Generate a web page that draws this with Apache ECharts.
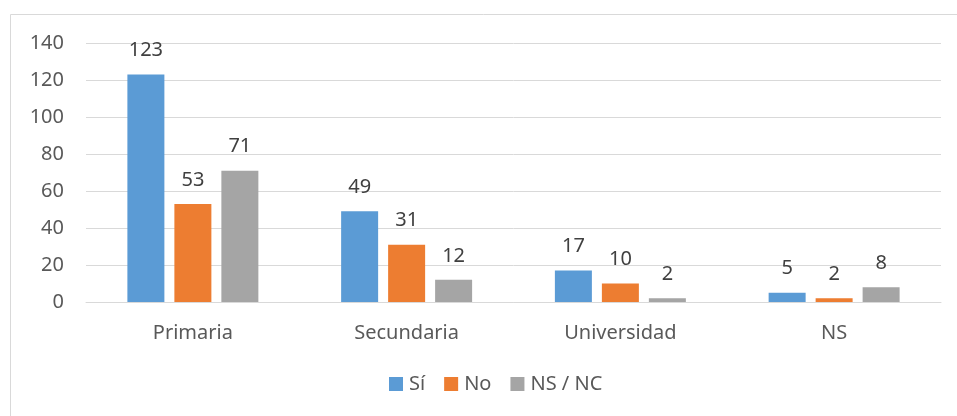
<!DOCTYPE html>
<html>
<head>
<meta charset="utf-8">
<script src="https://cdn.jsdelivr.net/npm/echarts@6/dist/echarts.min.js"></script>
<style>
  html, body { margin: 0; padding: 0; background: #fff; }
  #chart { width: 957px; height: 416px; }
</style>
</head>
<body>
<div id="chart"></div>
<script>
// Education level categories and answer counts
const categories = ['Primaria', 'Secundaria', 'Universidad', 'NS'];
const seriesNames = ['Sí', 'No', 'NS / NC'];
const siValues = [123, 49, 17, 5];
const noValues = [53, 31, 10, 2];
const nsncValues = [71, 12, 2, 8];
const yTicks = [0, 20, 40, 60, 80, 100, 120, 140];

const colors = ['#5b9bd5', '#ed7d31', '#a5a5a5'];
const textColor = '#595959';
const gridColor = '#d9d9d9';
const fontFamily = '"Noto Sans", "Open Sans", sans-serif';
const fontSize = 20;

const chart = echarts.init(document.getElementById('chart'), null, { renderer: 'canvas' });

function barSeries(name, data, color) {
  return {
    name: name,
    type: 'bar',
    data: data,
    barWidth: 37,
    barGap: '27%',
    itemStyle: { color: color },
    label: {
      show: true,
      position: 'top',
      distance: 14,
      color: '#404040',
      fontSize: fontSize,
      fontFamily: fontFamily
    }
  };
}

chart.setOption({
  animation: false,
  color: colors,
  textStyle: { fontFamily: fontFamily },
  grid: { left: 86, right: 16, top: 43, bottom: 114, containLabel: false },
  legend: {
    bottom: 17,
    left: 384,
    itemWidth: 14,
    itemHeight: 14,
    itemGap: 19,
    icon: 'rect',
    textStyle: { color: textColor, fontSize: fontSize, fontFamily: fontFamily, padding: [0, 0, 0, 1] },
    data: seriesNames
  },
  xAxis: {
    type: 'category',
    data: categories,
    axisLine: { show: true, lineStyle: { color: gridColor, width: 1 } },
    axisTick: { show: false },
    axisLabel: { color: textColor, fontSize: fontSize, margin: 21, fontFamily: fontFamily }
  },
  yAxis: {
    type: 'value',
    min: yTicks[0],
    max: yTicks[yTicks.length - 1],
    interval: 20,
    axisLine: { show: false },
    axisTick: { show: false },
    axisLabel: { color: textColor, fontSize: fontSize, margin: 22, fontFamily: fontFamily },
    splitLine: { lineStyle: { color: gridColor, width: 1 } }
  },
  graphic: [
    { type: 'line', shape: { x1: 10.5, y1: 14.5, x2: 957, y2: 14.5 }, style: { stroke: gridColor, lineWidth: 1 } },
    { type: 'line', shape: { x1: 10.5, y1: 14.5, x2: 10.5, y2: 416 }, style: { stroke: gridColor, lineWidth: 1 } }
  ],
  series: [
    barSeries(seriesNames[0], siValues, colors[0]),
    barSeries(seriesNames[1], noValues, colors[1]),
    barSeries(seriesNames[2], nsncValues, colors[2])
  ]
});
</script>
</body>
</html>
